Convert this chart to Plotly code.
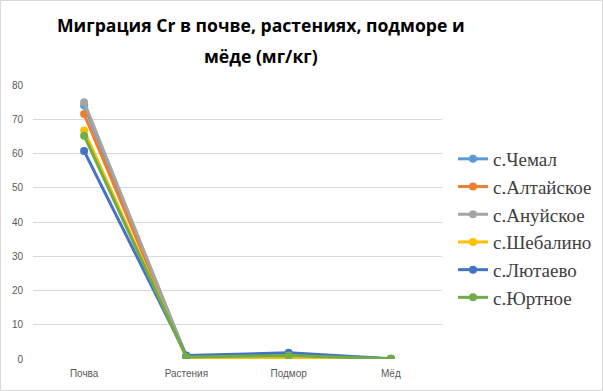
import plotly.graph_objects as go

categories = ["Почва", "Растения", "Подмор", "Мёд"]
series_names = ["с.Чемал", "с.Алтайское", "с.Ануйское", "с.Шебалино", "с.Лютаево", "с.Юртное"]
chemal = [74.0, 0.8, 1.2, 0.05]
altayskoe = [71.5, 0.6, 0.8, 0.03]
anuyskoe = [75.0, 0.7, 1.0, 0.03]
shebalino = [66.7, 0.4, 0.3, 0.02]
lyutaevo = [60.7, 1.0, 1.8, 0.05]
yurtnoe = [65.2, 0.6, 1.0, 0.05]
colors = ["#5B9BD5", "#ED7D31", "#A5A5A5", "#FFC000", "#4472C4", "#70AD47"]
title_lines = ["Миграция Cr в почве, растениях, подморе и", "мёде (мг/кг)"]

series = [chemal, altayskoe, anuyskoe, shebalino, lyutaevo, yurtnoe]

W, H = 603, 391
ml, mr, mt, mb = 33, 161, 85, 32
pw = W - ml - mr
ph = H - mt - mb

fig = go.Figure()
for name, vals, c in zip(series_names, series, colors):
    fig.add_trace(go.Scatter(
        x=categories, y=vals, name=name, mode="lines+markers",
        line=dict(color=c, width=3),
        marker=dict(color=c, size=8),
    ))

title_font = dict(family="Open Sans", size=17.6, color="#000000", weight="bold")
annotations = []
for line, cy in zip(title_lines, [25, 56]):
    annotations.append(dict(
        text=line, xref="paper", yref="paper", showarrow=False,
        x=(261 - ml) / pw, xanchor="center",
        y=(H - mb - cy) / ph, yanchor="middle",
        font=title_font,
    ))

fig.update_layout(
    width=W, height=H,
    margin=dict(l=ml, r=mr, t=mt, b=mb, autoexpand=False),
    paper_bgcolor="white", plot_bgcolor="white",
    annotations=annotations,
    xaxis=dict(
        showgrid=False, showline=False, zeroline=False, ticks="",
        tickfont=dict(family="Liberation Sans", size=10, color="#595959"),
        range=[-0.5, 3.5], automargin=False, ticklabelstandoff=7,
    ),
    yaxis=dict(
        range=[0, 80], dtick=10, showgrid=True, gridcolor="#D9D9D9", gridwidth=1,
        zeroline=False, showline=False, ticks="",
        tickfont=dict(family="Liberation Sans", size=10, color="#595959"),
        automargin=False, ticklabelstandoff=9,
    ),
    legend=dict(
        x=(453 - ml) / pw, y=(H - mb - 140) / ph, xanchor="left", yanchor="top",
        font=dict(family="Liberation Serif", size=19, color="#404040"),
        tracegroupgap=0, itemwidth=30,
    ),
    shapes=[dict(
        type="rect", xref="paper", yref="paper",
        x0=(0.5 - ml) / pw, x1=(W - 0.5 - ml) / pw,
        y0=(-mb + 0.5) / ph, y1=(H - mb - 0.5) / ph,
        line=dict(color="#D9D9D9", width=1), layer="below",
    )],
)

fig.write_html("out.html", config={"displayModeBar": False},
               post_script="document.body.style.margin='0';")
